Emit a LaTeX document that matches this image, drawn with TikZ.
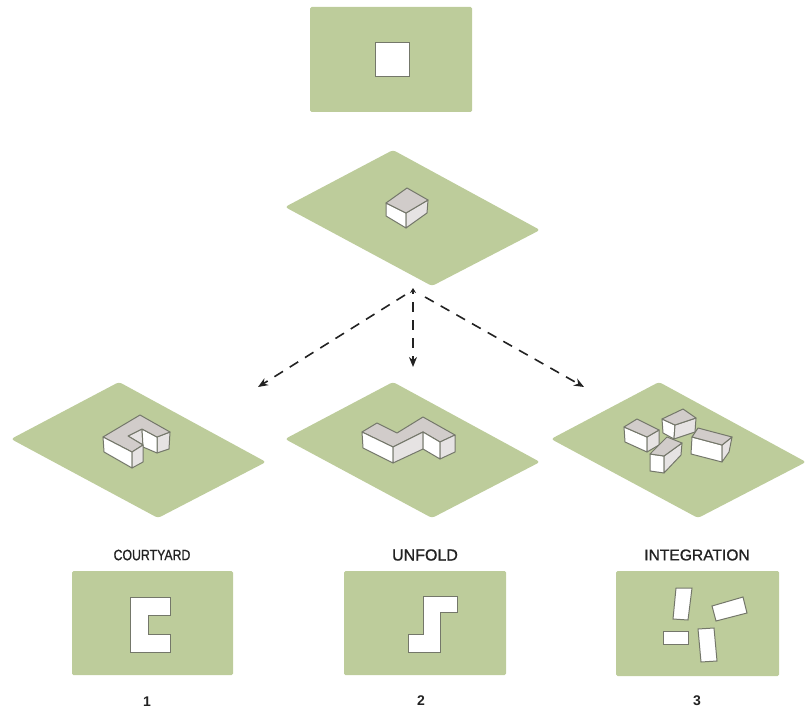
\documentclass[tikz,border=0pt]{standalone}
\usepackage{fontspec}
\setmainfont{Liberation Sans}
\newfontfamily\headfont[FakeBold=1]{Liberation Sans}
\usetikzlibrary{arrows.meta}
\definecolor{lawn}{HTML}{BDCC9B}
\definecolor{edgeg}{HTML}{74776A}
\definecolor{topg}{HTML}{D1CCCA}
\definecolor{sideg}{HTML}{E6E3E3}
\definecolor{inkd}{HTML}{222222}
\tikzset{
  lawnrect/.style={fill=lawn,rounded corners=1.5pt},
  lawnflat/.style={fill=lawn,rounded corners=3pt},
  plan/.style={fill=white,draw=edgeg,line width=1pt,line join=miter},
  topface/.style={fill=topg,draw=edgeg,line width=1pt,line join=round},
  leftface/.style={fill=white,draw=edgeg,line width=1pt,line join=round},
  rightface/.style={fill=sideg,draw=edgeg,line width=1pt,line join=round},
  flowarrow/.style={draw=inkd,line width=1.6pt,dash pattern=on 10pt off 8pt,-{Stealth[length=10pt,width=8pt]}},
  apexarrow/.style={draw=inkd,line width=1.4pt,-{Stealth[length=5pt,width=6pt]}},
  heading/.style={text=inkd,inner sep=0pt,anchor=center},
  numeral/.style={text=inkd,inner sep=0pt,anchor=center,font=\fontsize{14}{14}\selectfont\bfseries}
}
\begin{document}
\begin{tikzpicture}[x=1pt,y=-1pt]
\useasboundingbox (0,0) rectangle (805,711);
% top plan
\fill[lawnrect] (310,7) rectangle (472,112);
\draw[plan] (375,43) rectangle (409,77);
% lawns
\fill[lawnflat] (285,207) -- (393,150) -- (540,230) -- (432,286) -- cycle;
\fill[lawnflat] (11,439) -- (119,382) -- (266,462) -- (158,518) -- cycle;
\fill[lawnflat] (285,439) -- (393,382) -- (540,462) -- (432,518) -- cycle;
\fill[lawnflat] (551,439) -- (659,382) -- (806,462) -- (698,518) -- cycle;
% cube
\draw[leftface] (386,203) -- (406,213) -- (406,228) -- (386,216) -- cycle;
\draw[rightface] (406,213) -- (428,200) -- (427,213) -- (406,228) -- cycle;
\draw[topface] (386,203) -- (407,188) -- (428,200) -- (406,213) -- cycle;
% courtyard block
\draw[rightface] (157,437) -- (170,432) -- (169,449) -- (157,453) -- cycle;
\draw[rightface] (128,436) -- (142,429) -- (143,445) -- cycle;
\draw[leftface] (142,429) -- (157,437) -- (157,453) -- (143,447) -- cycle;
\draw[topface] (103,437) -- (140,415) -- (170,432) -- (157,437) -- (142,429) -- (128,436) -- (143,445) -- (132,452) -- cycle;
\draw[leftface] (103,437) -- (132,452) -- (132,468) -- (104,452) -- cycle;
\draw[rightface] (132,452) -- (143,445) -- (143,462) -- (132,468) -- cycle;
% unfold block
\draw[topface] (362,432) -- (377,423) -- (397,433) -- (423,417) -- (455,435) -- (440,442) -- (423,432) -- (393,447) -- cycle;
\draw[leftface] (362,432) -- (393,447) -- (393,463) -- (363,448) -- cycle;
\draw[rightface] (393,447) -- (423,432) -- (423,449) -- (393,463) -- cycle;
\draw[leftface] (423,432) -- (440,442) -- (440,459) -- (423,449) -- cycle;
\draw[rightface] (440,442) -- (455,435) -- (455,452) -- (440,459) -- cycle;
% integration blocks
\draw[leftface] (624,427) -- (647,437) -- (647,452) -- (625,442) -- cycle;
\draw[rightface] (647,437) -- (659,430) -- (659,445) -- (647,452) -- cycle;
\draw[topface] (624,427) -- (637,419) -- (659,430) -- (647,437) -- cycle;
\draw[leftface] (662,419) -- (675,425) -- (674,439) -- (663,433) -- cycle;
\draw[rightface] (675,425) -- (696,418) -- (695,432) -- (674,439) -- cycle;
\draw[topface] (662,419) -- (683,409) -- (696,418) -- (675,425) -- cycle;
\draw[leftface] (692,437) -- (722,445) -- (722,462) -- (691,454) -- cycle;
\draw[rightface] (722,445) -- (732,437) -- (729,452) -- (722,462) -- cycle;
\draw[topface] (692,437) -- (698,428) -- (732,437) -- (722,445) -- cycle;
\draw[leftface] (650,454) -- (664,456) -- (664,473) -- (650,471) -- cycle;
\draw[rightface] (664,456) -- (682,443) -- (681,455) -- (664,473) -- cycle;
\draw[topface] (650,454) -- (667,437) -- (682,443) -- (664,456) -- cycle;
% arrows
\coordinate (apexbase) at (413,294);
\coordinate (apextip) at (413,288);
\coordinate (startL) at (405,295);
\coordinate (startD) at (413,302);
\coordinate (startR) at (425,297);
\coordinate (tipL) at (258,387);
\coordinate (tipD) at (413,367);
\coordinate (tipR) at (584,387);
\draw[apexarrow] (apexbase) -- (apextip);
\draw[flowarrow] (startL) -- (tipL);
\draw[flowarrow] (startD) -- (tipD);
\draw[flowarrow] (startR) -- (tipR);
% bottom plans
\fill[lawnrect] (72,571) rectangle (233,675);
\fill[lawnrect] (344,571) rectangle (506,675);
\fill[lawnrect] (616,571) rectangle (779,676);
\draw[plan] (130,597) -- (170,597) -- (170,615) -- (148,615) -- (148,634) -- (170,634) -- (170,652) -- (130,652) -- cycle;
\draw[plan] (423,596) -- (457,596) -- (457,612) -- (440,612) -- (440,652) -- (408,652) -- (408,634) -- (423,634) -- cycle;
\draw[plan] (676,588) -- (692,588) -- (688,620) -- (673,619) -- cycle;
\draw[plan] (712,606) -- (743,597) -- (747,613) -- (716,621) -- cycle;
\draw[plan] (663,631) -- (688,631) -- (688,644) -- (663,644) -- cycle;
\draw[plan] (698,629) -- (714,628) -- (717,661) -- (701,662) -- cycle;
% labels
\node[heading] (courtyard) at (152,555) {\scalebox{0.82}[1]{\fontsize{15}{15}\headfont COURTYARD}};
\node[heading] (unfold) at (425,555) {\fontsize{16}{16}\headfont UNFOLD};
\node[heading] (integration) at (697,555) {\fontsize{15.6}{15.6}\headfont INTEGRATION};
\node[numeral] (one) at (147,702) {1};
\node[numeral] (two) at (421,701) {2};
\node[numeral] (three) at (697,701) {3};
\end{tikzpicture}
\end{document}
